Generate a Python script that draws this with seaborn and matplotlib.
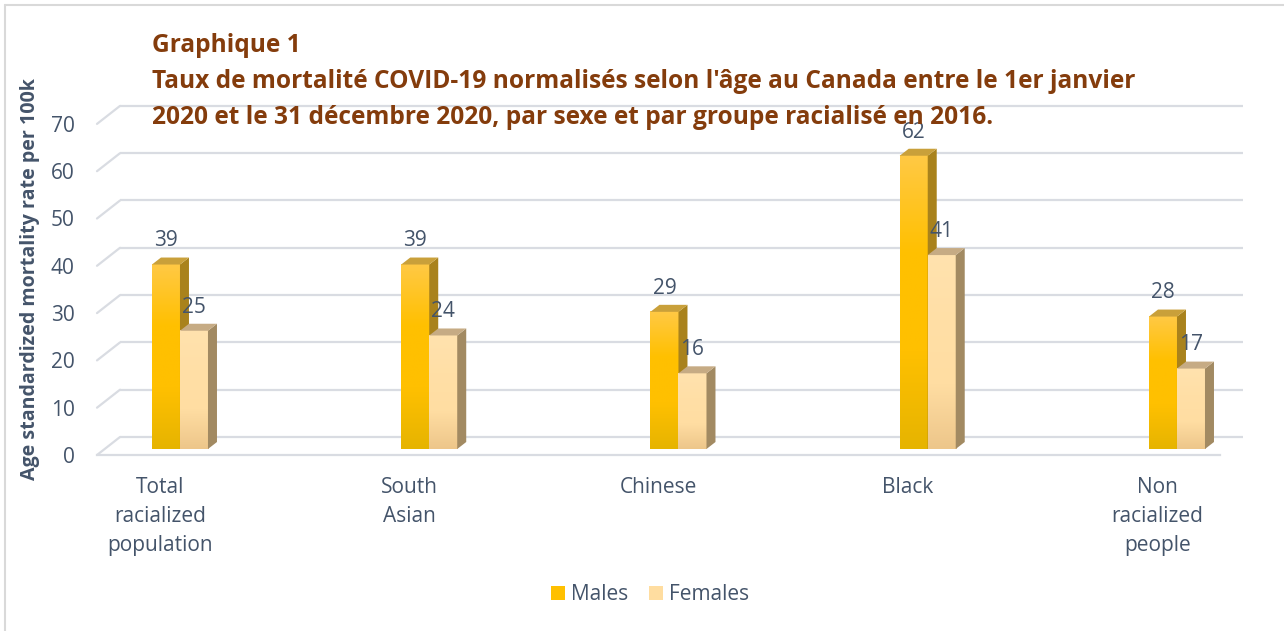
import numpy as np
import pandas as pd
import matplotlib
matplotlib.use("Agg")
import matplotlib.pyplot as plt
import seaborn as sns
from matplotlib.patches import Polygon, Patch, ConnectionPatch
from matplotlib.lines import Line2D
from matplotlib.colors import LinearSegmentedColormap
from matplotlib.transforms import IdentityTransform, ScaledTranslation

# ---------------- data ----------------
categories = ["Total\nracialized\npopulation", "South\nAsian", "Chinese", "Black",
              "Non\nracialized\npeople"]
males = [39, 39, 29, 62, 28]
females = [25, 24, 16, 41, 17]
series = ["Males", "Females"]
y_ticks = [0, 10, 20, 30, 40, 50, 60, 70]
title_lines = ["Graphique 1",
               "Taux de mortalité COVID-19 normalisés selon l'âge au Canada entre le 1er janvier",
               "2020 et le 31 décembre 2020, par sexe et par groupe racialisé en 2016."]
y_label = "Age standardized mortality rate per 100k"

# ---------------- style ----------------
W, H = 1284, 631
sns.set_theme(style="white")
plt.rcParams["font.family"] = ["Open Sans", "DejaVu Sans"]
TXT = "#44546A"
TITLE = "#843C0C"
GRID = "#D9DCE2"
FS = 15

fig = plt.figure(figsize=(W / 100, H / 100), dpi=100)
fig.patch.set_facecolor("white")


def rect(x0, ytop, x1, ybot):
    """image pixel box -> figure fraction [l, b, w, h]"""
    return [x0 / W, 1 - ybot / H, (x1 - x0) / W, (ybot - ytop) / H]


# front plane geometry (pixels)
FX0, FX1 = 97, 1220
FY0 = 455
PPU = 4.73
YMAX = 70
FYT = FY0 - PPU * YMAX
XLIM = (-0.302, 4.2035)
BAR_D = (7.7, 6)     # bar plane offset from front plane
BACK_D = (23, 18)    # back wall offset from front plane
DEPTH = (9, 7)       # bar depth

ax_back = fig.add_axes(rect(FX0 + BACK_D[0], FYT - BACK_D[1], FX1 + BACK_D[0], FY0 - BACK_D[1]))
ax_front = fig.add_axes(rect(FX0, FYT, FX1, FY0))
ax_bars = fig.add_axes(rect(FX0 + BAR_D[0], FYT - BAR_D[1], FX1 + BAR_D[0], FY0 - BAR_D[1]))

for a in (ax_back, ax_front, ax_bars):
    a.set_facecolor("none")
    a.set_xlim(*XLIM)
    a.set_ylim(0, YMAX)

# back wall gridlines
ax_back.axis("off")
ax_back.hlines(y_ticks, XLIM[0], XLIM[1], colors=GRID, lw=1.6, clip_on=False)

# side wall diagonals
for v in y_ticks:
    cp = ConnectionPatch(xyA=(XLIM[0], v), coordsA=ax_front.transData,
                         xyB=(XLIM[0], v), coordsB=ax_back.transData,
                         color=GRID, lw=1.6)
    fig.add_artist(cp)

# front plane: tick labels + floor front edge
for s in ("left", "right", "top"):
    ax_front.spines[s].set_visible(False)
ax_front.spines["bottom"].set_color(GRID)
ax_front.spines["bottom"].set_linewidth(1.6)
ax_front.set_yticks(y_ticks)
ax_front.set_yticklabels([str(t) for t in y_ticks])
ax_front.set_xticks(range(len(categories)))
ax_front.set_xticklabels(categories)
ax_front.tick_params(axis="y", length=0, pad=16, labelsize=FS, labelcolor=TXT)
ax_front.tick_params(axis="x", length=0, pad=16, labelsize=FS, labelcolor=TXT)
shift = ScaledTranslation(-0.12, 0, fig.dpi_scale_trans)
for lbl in ax_front.get_xticklabels():
    lbl.set_linespacing(1.48)
    lbl.set_transform(lbl.get_transform() + shift)
ax_front.set_xlim(*XLIM)
ax_front.set_ylim(0, YMAX)

# ---------------- bars ----------------
df = pd.DataFrame({
    "Group": categories * 2,
    "Sex": [series[0]] * len(categories) + [series[1]] * len(categories),
    "Rate": males + females,
})
pal = {"Males": "#FFC000", "Females": "#FFDDA0"}
sns.barplot(data=df, x="Group", y="Rate", hue="Sex", order=categories, hue_order=series,
            palette=pal, width=0.2247, gap=0, errorbar=None, saturation=1,
            legend=False, ax=ax_bars)
ax_bars.axis("off")
ax_bars.set_xlim(*XLIM)
ax_bars.set_ylim(0, YMAX)

grad = {
    "Males": LinearSegmentedColormap.from_list("m", ["#E6B400", "#FFC000", "#FFC000", "#FFC945"]),
    "Females": LinearSegmentedColormap.from_list("f", ["#EDC68A", "#FFDDA2", "#FFDFA6", "#FFE2AE"]),
}
side_col = {"Males": "#A9821C", "Females": "#A28A62"}
top_col = {"Males": "#C9A03A", "Females": "#C6AB84"}
zbase = {"Males": 3, "Females": 5}

info = []
for p in ax_bars.patches:
    h = p.get_height()
    if h <= 0:
        continue
    x0, w = p.get_x(), p.get_width()
    center = round(x0 + w / 2)
    sex = "Males" if x0 + w / 2 < center else "Females"
    info.append((p, x0, w, h, sex))

for p, x0, w, h, sex in info:
    z = zbase[sex]
    p.set_zorder(z)
    p.set_edgecolor("none")
    g = np.linspace(0, 1, 256).reshape(-1, 1)
    ax_bars.imshow(g, extent=[x0, x0 + w, 0, h], origin="lower", aspect="auto",
                   cmap=grad[sex], zorder=z + 0.1, interpolation="bilinear")

ax_bars.set_xlim(*XLIM)
ax_bars.set_ylim(0, YMAX)

for p, x0, w, h, sex in info:
    z = zbase[sex]
    A = ax_bars.transData.transform((x0 + w, 0))
    B = ax_bars.transData.transform((x0 + w, h))
    C = ax_bars.transData.transform((x0, h))
    d = np.array(DEPTH)
    side = Polygon([A, B, B + d, A + d], closed=True, transform=IdentityTransform(),
                   facecolor=side_col[sex], edgecolor="none", zorder=z + 0.2, clip_on=False)
    top = Polygon([C, B, B + d, C + d], closed=True, transform=IdentityTransform(),
                  facecolor=top_col[sex], edgecolor="none", zorder=z + 0.3, clip_on=False)
    ax_bars.add_patch(side)
    ax_bars.add_patch(top)
    ax_bars.annotate(f"{h:g}", xy=(x0 + w / 2, h), xytext=(0, 17), textcoords="offset points",
                     ha="center", va="center", fontsize=FS, color=TXT, zorder=10,
                     annotation_clip=False)

ax_bars.set_xlim(*XLIM)
ax_bars.set_ylim(0, YMAX)

# ---------------- texts ----------------
renderer = fig.canvas.get_renderer()
ty = [45, 81, 117]
tts = []
for line, y in zip(title_lines, ty):
    tts.append(fig.text(152 / W, 1 - y / H, line, ha="left", va="center", fontsize=16,
                        fontweight="bold", color=TITLE, zorder=20))
wb = tts[1].get_window_extent(renderer=renderer).width
tfs = 16 * 986 / wb
for t in tts:
    t.set_fontsize(tfs)

yl = fig.text(30 / W, 1 - 279 / H, y_label, rotation=90, ha="center", va="center",
              fontsize=13, fontweight="bold", color=TXT)
hb = yl.get_window_extent(renderer=renderer).height
yl.set_fontsize(13 * 398 / hb)

handles = [Patch(facecolor=pal[s], edgecolor="none", label=s) for s in series]
fig.legend(handles=handles, loc="center", bbox_to_anchor=(650 / W, 1 - 595 / H), ncol=2,
           frameon=False, fontsize=FS, labelcolor=TXT, handlelength=0.67, handleheight=0.67,
           handletextpad=0.3, columnspacing=1.0)

# outer border (left and top visible)
fig.add_artist(Line2D([5 / W, 5 / W], [0, 1 - 5 / H], transform=fig.transFigure,
                      color="#D9D9D9", lw=1.5))
fig.add_artist(Line2D([5 / W, 1], [1 - 5 / H, 1 - 5 / H], transform=fig.transFigure,
                      color="#D9D9D9", lw=1.5))

fig.savefig("out.png", dpi=100)
